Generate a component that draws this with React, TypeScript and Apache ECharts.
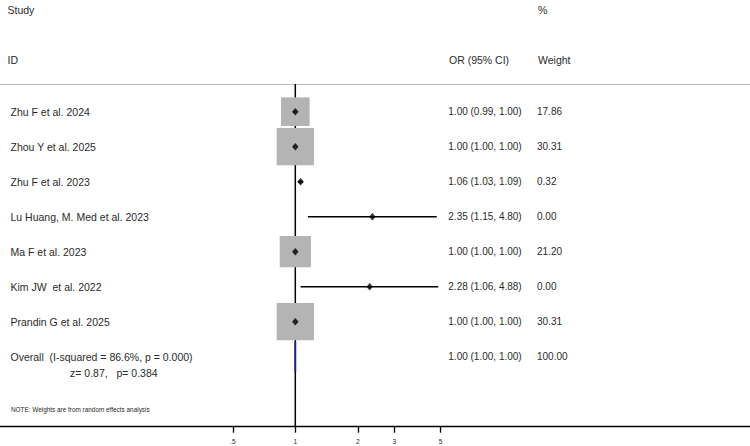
import React, { useEffect, useRef } from "react";
import * as echarts from "echarts";

const studies = [
  "Zhu F et al. 2024",
  "Zhou Y et al. 2025",
  "Zhu F et al. 2023",
  "Lu Huang, M. Med et al. 2023",
  "Ma F et al. 2023",
  "Kim JW  et al. 2022",
  "Prandin G et al. 2025",
];
const orValues = [1.0, 1.0, 1.06, 2.35, 1.0, 2.28, 1.0];
const ciLow = [0.99, 1.0, 1.03, 1.15, 1.0, 1.06, 1.0];
const ciHigh = [1.0, 1.0, 1.09, 4.8, 1.0, 4.88, 1.0];
const weights = [17.86, 30.31, 0.32, 0.0, 21.2, 0.0, 30.31];

const overallLabel = "Overall  (I-squared = 86.6%, p = 0.000)";
const overallZText = "z= 0.87,   p= 0.384";
const overallOR = [1.0];
const overallLow = [1.0];
const overallHigh = [1.0];
const overallWeight = [100.0];
const noteText = "NOTE: Weights are from random effects analysis";

const tickValues = [0.5, 1, 2, 3, 5];
const tickLabels = [".5", "1", "2", "3", "5"];

const FONT = '"Liberation Sans", Arial, sans-serif';
const TEXT_COLOR = "#2a2a2a";

const fmt = (v: number) => v.toFixed(2);
const ciText = (o: number, l: number, h: number) => `${fmt(o)} (${fmt(l)}, ${fmt(h)})`;

export default function App() {
  const ref = useRef<HTMLDivElement>(null);

  useEffect(() => {
    if (!ref.current) return;
    const chart = echarts.init(ref.current, null, { renderer: "svg" });
    const ln = Math.log;
    const xMin = -3.274;
    const xMax = 5.041;
    const yMin = -0.791;
    const yMax = 9.0;
    const overallRow = studies.length;

    const boxData = studies.map((_, i) => [ln(orValues[i]), i, weights[i]]);
    const ciData = studies.map((_, i) => [ln(ciLow[i]), i, ln(ciHigh[i])]);
    const pointData = studies.map((_, i) => [ln(orValues[i]), i]);
    const overallData = overallOR.map((o, k) => [ln(overallLow[k]), overallRow + k, ln(overallHigh[k]), ln(o)]);

    const rowTexts: { i: number; label: string; ci: string; w: string; lx: number; size: number }[] = [];
    studies.forEach((s, i) =>
      rowTexts.push({ i, label: s, ci: ciText(orValues[i], ciLow[i], ciHigh[i]), w: fmt(weights[i]), lx: 10.5, size: 10.5 })
    );
    rowTexts.push({
      i: overallRow,
      label: overallLabel,
      ci: ciText(overallOR[0], overallLow[0], overallHigh[0]),
      w: fmt(overallWeight[0]),
      lx: 10.5,
      size: 10.5,
    });
    rowTexts.push({ i: overallRow + 0.47, label: overallZText, ci: "", w: "", lx: 70, size: 10.5 });
    rowTexts.push({ i: overallRow + 1.52, label: noteText, ci: "", w: "", lx: 11, size: 6.4 });

    const option: any = {
      animation: false,
      backgroundColor: "#ffffff",
      grid: { left: 0, right: 0, top: 84, bottom: 19.3, containLabel: false },
      xAxis: [
        {
          type: "value",
          min: xMin,
          max: xMax,
          position: "bottom",
          splitLine: { show: false },
          axisLine: { show: true, onZero: false, lineStyle: { color: "#000", width: 1.3 } },
          axisTick: {
            show: true,
            length: 6,
            customValues: tickValues.map((v) => ln(v)),
            lineStyle: { color: "#000", width: 1.3 },
          },
          axisLabel: {
            show: true,
            customValues: tickValues.map((v) => ln(v)),
            formatter: (v: number) => {
              let best = 0;
              tickValues.forEach((t, k) => {
                if (Math.abs(ln(t) - v) < Math.abs(ln(tickValues[best]) - v)) best = k;
              });
              return tickLabels[best];
            },
            fontSize: 6.5,
            fontFamily: FONT,
            color: TEXT_COLOR,
            margin: 11,
          },
        },
        {
          type: "value",
          min: xMin,
          max: xMax,
          position: "top",
          splitLine: { show: false },
          axisLine: { show: true, onZero: false, lineStyle: { color: "#bdbdbd", width: 1.2 } },
          axisTick: { show: false },
          axisLabel: { show: false },
        },
      ],
      yAxis: {
        type: "value",
        min: yMin,
        max: yMax,
        inverse: true,
        show: false,
        splitLine: { show: false },
      },
      graphic: [
        { type: "text", x: 7.5, y: 9.6, style: { text: "Study", fill: TEXT_COLOR, fontSize: 10.5, fontFamily: FONT, verticalAlign: "middle" } },
        { type: "text", x: 538, y: 9.6, style: { text: "%", fill: TEXT_COLOR, fontSize: 10.5, fontFamily: FONT, verticalAlign: "middle" } },
        { type: "text", x: 7.5, y: 60, style: { text: "ID", fill: TEXT_COLOR, fontSize: 10.5, fontFamily: FONT, verticalAlign: "middle" } },
        { type: "text", x: 449, y: 60, style: { text: "OR (95% CI)", fill: TEXT_COLOR, fontSize: 10.5, fontFamily: FONT, verticalAlign: "middle" } },
        { type: "text", x: 538, y: 60, style: { text: "Weight", fill: TEXT_COLOR, fontSize: 10.5, fontFamily: FONT, verticalAlign: "middle" } },
      ],
      series: [
        {
          name: "null",
          type: "line",
          data: [
            [0, yMin],
            [0, yMax],
          ],
          symbol: "none",
          lineStyle: { color: "#000", width: 1.5 },
          z: 1,
          silent: true,
        },
        {
          name: "boxes",
          type: "custom",
          z: 2,
          data: boxData,
          renderItem: (params: any, api: any) => {
            const c = api.coord([api.value(0), api.value(1)]);
            const s = 37.3 * Math.sqrt(api.value(2) / 30.31);
            if (s < 0.5) return null;
            return {
              type: "rect",
              shape: { x: c[0] - s / 2, y: c[1] - s / 2, width: s, height: s },
              style: { fill: "#b4b4b4" },
            };
          },
        },
        {
          name: "ci",
          type: "custom",
          z: 3,
          data: ciData,
          renderItem: (params: any, api: any) => {
            const a = api.coord([api.value(0), api.value(1)]);
            const b = api.coord([api.value(2), api.value(1)]);
            if (Math.abs(b[0] - a[0]) < 0.5) return null;
            return {
              type: "line",
              shape: { x1: a[0], y1: a[1], x2: b[0], y2: b[1] },
              style: { stroke: "#000", lineWidth: 1.5 },
            };
          },
        },
        {
          name: "points",
          type: "scatter",
          z: 4,
          data: pointData,
          symbol: "diamond",
          symbolSize: [6.5, 7.5],
          itemStyle: { color: "#000" },
        },
        {
          name: "overall",
          type: "custom",
          z: 4,
          data: overallData,
          renderItem: (params: any, api: any) => {
            const i = api.value(1);
            const h = 0.43;
            const p1 = api.coord([api.value(0), i]);
            const p2 = api.coord([api.value(3), i - h]);
            const p3 = api.coord([api.value(2), i]);
            const p4 = api.coord([api.value(3), i + h]);
            return {
              type: "polygon",
              shape: { points: [p1, p2, p3, p4] },
              style: { fill: "#1f1f8f", stroke: "#1f1f8f", lineWidth: 1.8 },
            };
          },
        },
        {
          name: "texts",
          type: "custom",
          z: 5,
          data: rowTexts.map((r) => [0, r.i]),
          renderItem: (params: any, api: any) => {
            const r = rowTexts[params.dataIndex];
            const y = api.coord([0, api.value(1)])[1];
            const children: any[] = [
              {
                type: "text",
                x: r.lx,
                y,
                style: { text: r.label, fill: TEXT_COLOR, fontSize: r.size, fontFamily: FONT, verticalAlign: "middle" },
              },
            ];
            if (r.ci)
              children.push({
                type: "text",
                x: 448.3,
                y,
                style: { text: r.ci, fill: TEXT_COLOR, fontSize: 10, fontFamily: FONT, verticalAlign: "middle" },
              });
            if (r.w)
              children.push({
                type: "text",
                x: 537,
                y,
                style: { text: r.w, fill: TEXT_COLOR, fontSize: 10, fontFamily: FONT, verticalAlign: "middle" },
              });
            return { type: "group", children };
          },
        },
      ],
    };
    chart.setOption(option);
    return () => chart.dispose();
  }, []);

  return (
    <div
      ref={ref}
      style={{ position: "fixed", left: 0, top: 0, width: 750, height: 446, background: "#fff" }}
    />
  );
}
